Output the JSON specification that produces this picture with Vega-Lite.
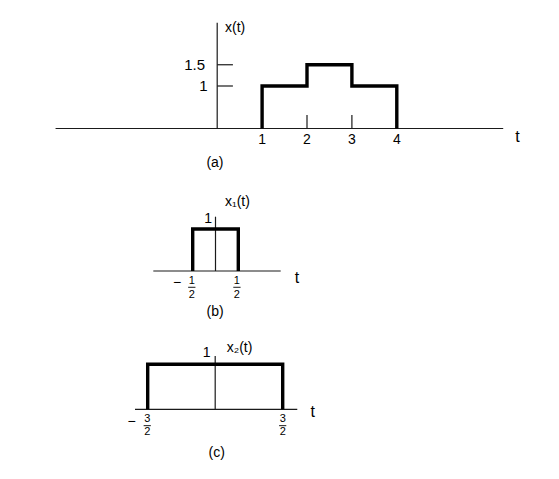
{
  "$schema": "https://vega.github.io/schema/vega-lite/v6.json",
  "autosize": {"type": "pad"},
  "padding": 0,
  "spacing": 0,
  "bounds": "flush",
  "background": "white",
  "config": {
    "view": {"stroke": null},
    "text": {"font": "Liberation Sans", "color": "black"}
  },
  "datasets": {
    "pulse": [
      {"panel": "a", "i": 0, "t": 1, "v": 0},
      {"panel": "a", "i": 1, "t": 1, "v": 1},
      {"panel": "a", "i": 2, "t": 2, "v": 1},
      {"panel": "a", "i": 3, "t": 2, "v": 1.5},
      {"panel": "a", "i": 4, "t": 3, "v": 1.5},
      {"panel": "a", "i": 5, "t": 3, "v": 1},
      {"panel": "a", "i": 6, "t": 4, "v": 1},
      {"panel": "a", "i": 7, "t": 4, "v": 0},
      {"panel": "b", "i": 0, "t": -0.5, "v": 0},
      {"panel": "b", "i": 1, "t": -0.5, "v": 1},
      {"panel": "b", "i": 2, "t": 0.5, "v": 1},
      {"panel": "b", "i": 3, "t": 0.5, "v": 0},
      {"panel": "c", "i": 0, "t": -1.5, "v": 0},
      {"panel": "c", "i": 1, "t": -1.5, "v": 1},
      {"panel": "c", "i": 2, "t": 1.5, "v": 1},
      {"panel": "c", "i": 3, "t": 1.5, "v": 0}
    ],
    "segments": [
      {"panel": "a", "kind": "axis", "t": -3.6, "v": 0, "t2": 6.37, "v2": 0},
      {"panel": "a", "kind": "axis", "t": 0, "v": 0, "t2": 0, "v2": 2.49},
      {"panel": "a", "kind": "axis", "t": 2, "v": 0, "t2": 2, "v2": 0.32},
      {"panel": "a", "kind": "axis", "t": 3, "v": 0, "t2": 3, "v2": 0.32},
      {"panel": "a", "kind": "axis", "t": 0, "v": 1, "t2": 0.35, "v2": 1},
      {"panel": "a", "kind": "axis", "t": 0, "v": 1.5, "t2": 0.35, "v2": 1.5},
      {"panel": "b", "kind": "axis", "t": -1.364, "v": 0, "t2": 1.43, "v2": 0},
      {"panel": "b", "kind": "axis", "t": 0, "v": 0, "t2": 0, "v2": 1.293},
      {"panel": "b", "kind": "bar", "t": -0.6, "v": -0.388, "t2": -0.44, "v2": -0.388},
      {"panel": "b", "kind": "bar", "t": 0.39, "v": -0.388, "t2": 0.55, "v2": -0.388},
      {"panel": "c", "kind": "axis", "t": -1.782, "v": 0, "t2": 1.824, "v2": 0},
      {"panel": "c", "kind": "axis", "t": 0, "v": 0, "t2": 0, "v2": 1.184},
      {"panel": "c", "kind": "bar", "t": -1.59, "v": -0.364, "t2": -1.43, "v2": -0.364},
      {"panel": "c", "kind": "bar", "t": 1.42, "v": -0.364, "t2": 1.58, "v2": -0.364}
    ],
    "labels": [
      {"panel": "a", "kind": "num", "t": 1, "v": -0.27, "text": "1"},
      {"panel": "a", "kind": "num", "t": 2, "v": -0.27, "text": "2"},
      {"panel": "a", "kind": "num", "t": 3, "v": -0.27, "text": "3"},
      {"panel": "a", "kind": "num", "t": 4, "v": -0.27, "text": "4"},
      {"panel": "a", "kind": "tlab", "t": 6.69, "v": -0.19, "text": "t"},
      {"panel": "a", "kind": "num", "t": -0.05, "v": -0.82, "text": "(a)"},
      {"panel": "a", "kind": "name", "t": 0.174, "v": 2.365, "text": "x(t)"},
      {"panel": "a", "kind": "ylab", "t": -0.27, "v": 1.5, "text": "1.5"},
      {"panel": "a", "kind": "ylab", "t": -0.216, "v": 1, "text": "1"},
      {"panel": "b", "kind": "num", "t": -0.164, "v": 1.238, "text": "1"},
      {"panel": "b", "kind": "name", "t": 0.208, "v": 1.643, "text": "x₁(t)"},
      {"panel": "b", "kind": "tlab", "t": 1.787, "v": -0.167, "text": "t"},
      {"panel": "b", "kind": "num", "t": -0.01, "v": -0.983, "text": "(b)"},
      {"panel": "b", "kind": "minus", "t": -0.844, "v": -0.293, "text": "−"},
      {"panel": "b", "kind": "frac", "t": -0.52, "v": -0.245, "text": "1"},
      {"panel": "b", "kind": "frac", "t": -0.52, "v": -0.56, "text": "2"},
      {"panel": "b", "kind": "frac", "t": 0.47, "v": -0.245, "text": "1"},
      {"panel": "b", "kind": "frac", "t": 0.47, "v": -0.56, "text": "2"},
      {"panel": "c", "kind": "num", "t": -0.189, "v": 1.258, "text": "1"},
      {"panel": "c", "kind": "name", "t": 0.256, "v": 1.362, "text": "x₂(t)"},
      {"panel": "c", "kind": "tlab", "t": 2.167, "v": -0.053, "text": "t"},
      {"panel": "c", "kind": "num", "t": 0.033, "v": -0.971, "text": "(c)"},
      {"panel": "c", "kind": "minus", "t": -1.856, "v": -0.276, "text": "−"},
      {"panel": "c", "kind": "frac", "t": -1.51, "v": -0.216, "text": "3"},
      {"panel": "c", "kind": "frac", "t": -1.51, "v": -0.504, "text": "2"},
      {"panel": "c", "kind": "frac", "t": 1.5, "v": -0.216, "text": "3"},
      {"panel": "c", "kind": "frac", "t": 1.5, "v": -0.504, "text": "2"}
    ]
  },
  "vconcat": [
    {
      "width": 559,
      "height": 185,
      "encoding": {
        "x": {"field": "t", "type": "quantitative", "scale": {"domain": [-4.8374, 7.6125], "nice": false, "zero": false}, "axis": null},
        "y": {"field": "v", "type": "quantitative", "scale": {"domain": [-1.3294, 3.0235], "nice": false, "zero": false}, "axis": null}
      },
      "layer": [
        {
          "data": {"name": "segments"},
          "transform": [{"filter": "datum.panel === 'a' && datum.kind === 'axis'"}],
          "mark": {"type": "rule", "color": "#1a1a1a", "strokeWidth": 1.2},
          "encoding": {"x2": {"field": "t2"}, "y2": {"field": "v2"}}
        },
        {
          "data": {"name": "pulse"},
          "transform": [{"filter": "datum.panel === 'a'"}],
          "mark": {"type": "line", "color": "black", "strokeWidth": 3.4, "strokeJoin": "miter", "strokeCap": "butt"},
          "encoding": {"order": {"field": "i", "type": "quantitative"}}
        },
        {
          "data": {"name": "labels"},
          "transform": [{"filter": "datum.panel === 'a' && datum.kind === 'num'"}],
          "mark": {"type": "text", "fontSize": 14, "align": "center", "baseline": "middle"},
          "encoding": {"text": {"field": "text"}}
        },
        {
          "data": {"name": "labels"},
          "transform": [{"filter": "datum.panel === 'a' && datum.kind === 'tlab'"}],
          "mark": {"type": "text", "fontSize": 16, "align": "center", "baseline": "middle"},
          "encoding": {"text": {"field": "text"}}
        },
        {
          "data": {"name": "labels"},
          "transform": [{"filter": "datum.panel === 'a' && datum.kind === 'name'"}],
          "mark": {"type": "text", "fontSize": 14, "align": "left", "baseline": "middle"},
          "encoding": {"text": {"field": "text"}}
        },
        {
          "data": {"name": "labels"},
          "transform": [{"filter": "datum.panel === 'a' && datum.kind === 'ylab'"}],
          "mark": {"type": "text", "fontSize": 15, "align": "right", "baseline": "middle"},
          "encoding": {"text": {"field": "text"}}
        }
      ]
    },
    {
      "width": 559,
      "height": 140,
      "encoding": {
        "x": {"field": "t", "type": "quantitative", "scale": {"domain": [-4.726, 7.533], "nice": false, "zero": false}, "axis": null},
        "y": {"field": "v", "type": "quantitative", "scale": {"domain": [-1.2857, 2.0476], "nice": false, "zero": false}, "axis": null}
      },
      "layer": [
        {
          "data": {"name": "segments"},
          "transform": [{"filter": "datum.panel === 'b' && datum.kind === 'axis'"}],
          "mark": {"type": "rule", "color": "#1a1a1a", "strokeWidth": 1.2},
          "encoding": {"x2": {"field": "t2"}, "y2": {"field": "v2"}}
        },
        {
          "data": {"name": "segments"},
          "transform": [{"filter": "datum.panel === 'b' && datum.kind === 'bar'"}],
          "mark": {"type": "rule", "color": "#1a1a1a", "strokeWidth": 1},
          "encoding": {"x2": {"field": "t2"}, "y2": {"field": "v2"}}
        },
        {
          "data": {"name": "pulse"},
          "transform": [{"filter": "datum.panel === 'b'"}],
          "mark": {"type": "line", "color": "black", "strokeWidth": 3.4, "strokeJoin": "miter", "strokeCap": "butt"},
          "encoding": {"order": {"field": "i", "type": "quantitative"}}
        },
        {
          "data": {"name": "labels"},
          "transform": [{"filter": "datum.panel === 'b' && datum.kind === 'num'"}],
          "mark": {"type": "text", "fontSize": 14, "align": "center", "baseline": "middle"},
          "encoding": {"text": {"field": "text"}}
        },
        {
          "data": {"name": "labels"},
          "transform": [{"filter": "datum.panel === 'b' && datum.kind === 'tlab'"}],
          "mark": {"type": "text", "fontSize": 16, "align": "center", "baseline": "middle"},
          "encoding": {"text": {"field": "text"}}
        },
        {
          "data": {"name": "labels"},
          "transform": [{"filter": "datum.panel === 'b' && datum.kind === 'name'"}],
          "mark": {"type": "text", "fontSize": 14, "align": "left", "baseline": "middle"},
          "encoding": {"text": {"field": "text"}}
        },
        {
          "data": {"name": "labels"},
          "transform": [{"filter": "datum.panel === 'b' && datum.kind === 'frac'"}],
          "mark": {"type": "text", "fontSize": 11, "align": "center", "baseline": "middle"},
          "encoding": {"text": {"field": "text"}}
        },
        {
          "data": {"name": "labels"},
          "transform": [{"filter": "datum.panel === 'b' && datum.kind === 'minus'"}],
          "mark": {"type": "text", "fontSize": 14, "align": "center", "baseline": "middle"},
          "encoding": {"text": {"field": "text"}}
        }
      ]
    },
    {
      "width": 559,
      "height": 154,
      "encoding": {
        "x": {"field": "t", "type": "quantitative", "scale": {"domain": [-4.782, 7.64], "nice": false, "zero": false}, "axis": null},
        "y": {"field": "v", "type": "quantitative", "scale": {"domain": [-1.549, 1.873], "nice": false, "zero": false}, "axis": null}
      },
      "layer": [
        {
          "data": {"name": "segments"},
          "transform": [{"filter": "datum.panel === 'c' && datum.kind === 'axis'"}],
          "mark": {"type": "rule", "color": "#1a1a1a", "strokeWidth": 1.2},
          "encoding": {"x2": {"field": "t2"}, "y2": {"field": "v2"}}
        },
        {
          "data": {"name": "segments"},
          "transform": [{"filter": "datum.panel === 'c' && datum.kind === 'bar'"}],
          "mark": {"type": "rule", "color": "#1a1a1a", "strokeWidth": 1},
          "encoding": {"x2": {"field": "t2"}, "y2": {"field": "v2"}}
        },
        {
          "data": {"name": "pulse"},
          "transform": [{"filter": "datum.panel === 'c'"}],
          "mark": {"type": "line", "color": "black", "strokeWidth": 3.4, "strokeJoin": "miter", "strokeCap": "butt"},
          "encoding": {"order": {"field": "i", "type": "quantitative"}}
        },
        {
          "data": {"name": "labels"},
          "transform": [{"filter": "datum.panel === 'c' && datum.kind === 'num'"}],
          "mark": {"type": "text", "fontSize": 14, "align": "center", "baseline": "middle"},
          "encoding": {"text": {"field": "text"}}
        },
        {
          "data": {"name": "labels"},
          "transform": [{"filter": "datum.panel === 'c' && datum.kind === 'tlab'"}],
          "mark": {"type": "text", "fontSize": 16, "align": "center", "baseline": "middle"},
          "encoding": {"text": {"field": "text"}}
        },
        {
          "data": {"name": "labels"},
          "transform": [{"filter": "datum.panel === 'c' && datum.kind === 'name'"}],
          "mark": {"type": "text", "fontSize": 14, "align": "left", "baseline": "middle"},
          "encoding": {"text": {"field": "text"}}
        },
        {
          "data": {"name": "labels"},
          "transform": [{"filter": "datum.panel === 'c' && datum.kind === 'frac'"}],
          "mark": {"type": "text", "fontSize": 11, "align": "center", "baseline": "middle"},
          "encoding": {"text": {"field": "text"}}
        },
        {
          "data": {"name": "labels"},
          "transform": [{"filter": "datum.panel === 'c' && datum.kind === 'minus'"}],
          "mark": {"type": "text", "fontSize": 14, "align": "center", "baseline": "middle"},
          "encoding": {"text": {"field": "text"}}
        }
      ]
    }
  ]
}
